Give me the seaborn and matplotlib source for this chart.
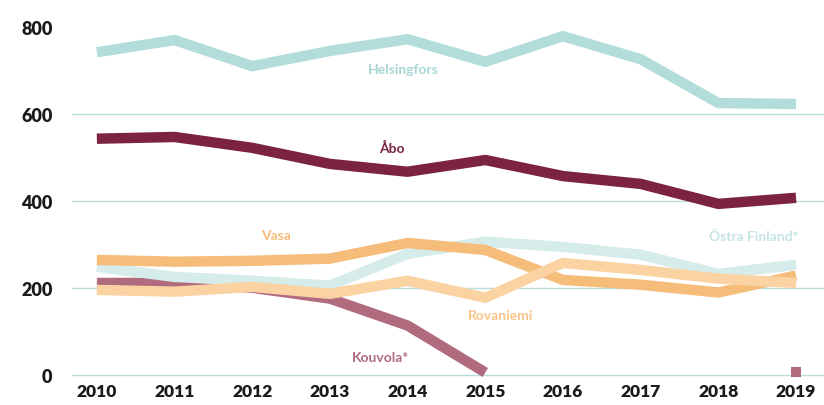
import numpy as np
import pandas as pd
import matplotlib
matplotlib.use('Agg')
import matplotlib.pyplot as plt
import seaborn as sns

years = [2010, 2011, 2012, 2013, 2014, 2015, 2016, 2017, 2018, 2019]

helsingfors = [742, 770, 710, 745, 772, 720, 779, 726, 625, 623]
abo = [543, 547, 522, 485, 467, 494, 457, 439, 393, 407]
vasa = [264, 260, 262, 267, 303, 287, 218, 207, 189, 228]
ostra_finland = [248, 225, 216, 205, 278, 306, 294, 276, 232, 253]
rovaniemi = [195, 191, 202, 186, 216, 177, 257, 241, 221, 211]
kouvola = [211, 211, 200, 175, 113, 5, np.nan, np.nan, np.nan, 5]

series = ['Kouvola*', 'Östra Finland*', 'Vasa', 'Rovaniemi', 'Helsingfors', 'Åbo']
values = [kouvola, ostra_finland, vasa, rovaniemi, helsingfors, abo]
colors = ['#b06b7e', '#d5ecea', '#f6bc79', '#fbd3a3', '#b3dddb', '#7b2340']

sns.set_style('white')
plt.rcParams['font.family'] = ['Lato', 'DejaVu Sans']

fig = plt.figure(figsize=(8.24, 4.06), dpi=100)
ax = fig.add_axes([72 / 824, 1 - 380 / 406, 1 - 72 / 824, 365 / 406])

for name, vals, col in zip(series, values, colors):
    df = pd.DataFrame({'year': years, 'value': vals})
    if name == 'Kouvola*':
        # line ends 2015, single value again in 2019
        seg = df.iloc[:6]
        sns.lineplot(data=seg, x='year', y='value', color=col, linewidth=7.5, ax=ax,
                     solid_capstyle='butt', clip_on=False)
        sns.scatterplot(data=df.iloc[9:], x='year', y='value', color=col, marker='s',
                        s=45, linewidth=0, ax=ax, clip_on=False)
    else:
        sns.lineplot(data=df, x='year', y='value', color=col, linewidth=7.5, ax=ax,
                     solid_capstyle='butt')

ax.set_xlim(2009.68, 2019.36)
ax.set_ylim(-10, 830)
ax.set_yticks([0, 200, 400, 600, 800])
ax.set_xticks(years)
ax.set_xticklabels([str(y) for y in years], fontsize=12.5, fontweight='heavy', color='#1a1a1a')
ax.set_yticklabels(['0', '200', '400', '600', '800'], fontsize=13, fontweight='heavy', color='#1a1a1a')
ax.tick_params(axis='y', length=0, pad=14)
ax.tick_params(axis='x', length=0, pad=3)
for v in [0, 200, 400, 600]:
    ax.axhline(v, color='#b8dede', linewidth=1, zorder=0)
for s in ax.spines.values():
    s.set_visible(False)
ax.set_xlabel('')
ax.set_ylabel('')

lab = dict(fontsize=10, fontweight='bold', ha='center', va='center')
ax.text(2013.95, 703, 'Helsingfors', color='#a7d7d5', **lab)
ax.text(2013.8, 522, 'Åbo', color='#7b2340', **lab)
ax.text(2012.3, 322, 'Vasa', color='#f6bc79', **lab)
ax.text(2018.45, 318, 'Östra Finland*', color='#c4e4e2', **lab)
ax.text(2015.2, 137, 'Rovaniemi', color='#f8c48a', **lab)
ax.text(2013.65, 40, 'Kouvola*', color='#b06b7e', **lab)

fig.savefig('out.png', dpi=100)
